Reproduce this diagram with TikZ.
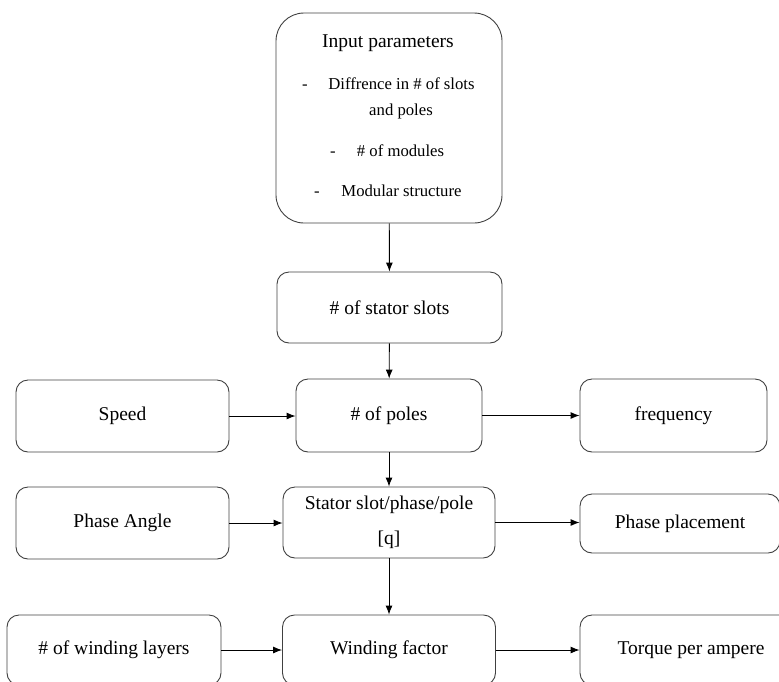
\documentclass[tikz,border=0pt]{standalone}
\usepackage{fontspec}
\setmainfont{Liberation Serif}
\usetikzlibrary{arrows.meta}

\begin{document}
\begin{tikzpicture}[x=1pt,y=-1pt]

\tikzset{block/.style = {shape=rectangle,draw=black!75,line width=0.9pt,rounded corners=12pt,align=center,inner sep=0pt,font=\fontsize{19.5}{23}\selectfont}}
\tikzset{item/.style = {inner sep=0pt,text height=11.5pt,text depth=3.5pt,font=\fontsize{16.7}{20}\selectfont}}
\tikzset{edge/.style = {-{Latex[length=9pt,width=7pt]},line width=0.9pt}}

\useasboundingbox (0,0) rectangle (779,681);
\clip (0,0) rectangle (779,681);

% input block
\node[block,rounded corners=28pt,minimum width=226pt,minimum height=210pt] (inp) at (389,118) {};
\node[inner sep=0pt,font=\fontsize{19.5}{23}\selectfont] (title) at (388,43) {Input parameters};
\node[item] (d1) at (305,85) {-};
\node[item] (t1) at (401.5,85) {Diffrence in \# of slots};
\node[item] (t1b) at (401,111) {and poles};
\node[item] (d2) at (333,152) {-};
\node[item] (t2) at (400.5,152) {\# of modules};
\node[item] (d3) at (317,192) {-};
\node[item] (t3) at (401.5,192) {Modular structure};

% middle column
\node[block,minimum width=225pt,minimum height=71pt] (slots) at (389.5,307.5) {\# of stator slots};
\node[block,minimum width=186pt,minimum height=73pt] (poles) at (389,415.5) {\# of poles};
\node[block,minimum width=212pt,minimum height=71pt] (q) at (389,522.5) {Stator slot/phase/pole\\[12pt]{[q]}};
\node[block,minimum width=213pt,minimum height=70pt] (wind) at (389,650) {Winding factor};

% left column
\node[block,minimum width=213pt,minimum height=72pt] (speed) at (122.5,416) {Speed};
\node[block,minimum width=213pt,minimum height=72pt] (angle) at (122.5,523) {Phase Angle};
\node[block,minimum width=214pt,minimum height=70pt] (layers) at (114,650) {\# of winding layers};

% right column
\node[block,minimum width=187pt,minimum height=73pt] (freq) at (673.5,415.5) {frequency};
\node[block,minimum width=200pt,minimum height=59pt] (place) at (680,523.5) {Phase placement};
\node[block,minimum width=222pt,minimum height=70pt] (torque) at (691,650) {Torque per ampere};

% vertical flow
\draw[edge] (inp) -- (slots);
\draw[edge] (slots) -- (poles);
\draw[edge] (poles) -- (q);
\draw[edge] (q) -- (wind);

% side arrows
\draw[edge] (speed.east) -- (speed.east -| poles.west);
\draw[edge] (poles.east) -- (poles.east -| freq.west);
\draw[edge] (angle.east) -- (angle.east -| q.west);
\draw[edge] (q.east) -- (q.east -| place.west);
\draw[edge] (layers.east) -- (layers.east -| wind.west);
\draw[edge] (wind.east) -- (wind.east -| torque.west);
\end{tikzpicture}
\end{document}
